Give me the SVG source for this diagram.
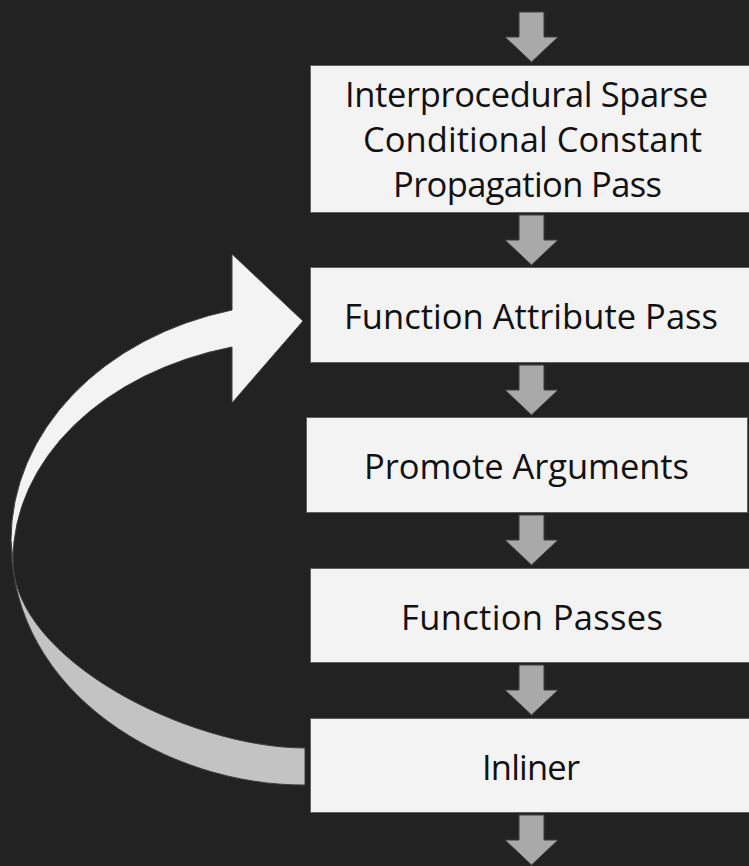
<svg xmlns="http://www.w3.org/2000/svg" width="749" height="866" viewBox="0 0 749 866">
  <style>
    .box { fill: #f3f3f3; stroke: #5f5f5f; stroke-width: 1; }
    .lbl { font-family: "Open Sans", "Liberation Sans", sans-serif; font-size: 34.5px; fill: #111111; text-anchor: middle; }
    .down { fill: #a9a9a9; stroke: #3c3c3c; stroke-width: 1; }
    .curve-front { fill: #f3f3f3; stroke: #3c3c3c; stroke-width: 1; }
    .curve-back { fill: #c3c3c3; stroke: #3c3c3c; stroke-width: 1; }
  </style>
  <defs>
    <path id="downArrow" d="M-12.5,0 H12.5 V25 H26.5 L0,50 L-26.5,25 H-12.5 Z"/>
  </defs>
  <rect x="0" y="0" width="749" height="866" fill="#222222"/>

  <g id="connectors">
    <use href="#downArrow" class="down" x="531.5" y="12"/>
    <use href="#downArrow" class="down" x="531.5" y="215"/>
    <use href="#downArrow" class="down" x="531.5" y="365"/>
    <use href="#downArrow" class="down" x="531.5" y="515"/>
    <use href="#downArrow" class="down" x="531.5" y="665"/>
    <use href="#downArrow" class="down" x="531.5" y="815"/>
    <g id="loop-arrow">
      <path class="curve-back" d="M11,540 C11,695 170,786 305,785 L305,748 C190,748 13,660 13,560 Z"/>
      <path class="curve-front" d="M232,254 L303,321 L232,403 L232,347 A292,220 0 0 0 13,560 L11,540 A294,238 0 0 1 232,310 Z"/>
    </g>
  </g>

  <g id="node-ipsccp">
    <rect class="box" x="310.5" y="65.5" width="445" height="147"/>
    <text class="lbl" x="526.5" y="107" textLength="363">Interprocedural Sparse</text>
    <text class="lbl" x="532.5" y="152" textLength="339">Conditional Constant</text>
    <text class="lbl" x="527.5" y="197" textLength="269">Propagation Pass</text>
  </g>
  <g id="node-functionattrs">
    <rect class="box" x="310.5" y="267.5" width="445" height="95"/>
    <text class="lbl" x="531" y="329" textLength="374">Function Attribute Pass</text>
  </g>
  <g id="node-argpromotion">
    <rect class="box" x="306.5" y="417.5" width="441" height="95"/>
    <text class="lbl" x="526.5" y="479" textLength="325">Promote Arguments</text>
  </g>
  <g id="node-function-passes">
    <rect class="box" x="310.5" y="568.5" width="445" height="94"/>
    <text class="lbl" x="532" y="630" textLength="262">Function Passes</text>
  </g>
  <g id="node-inliner">
    <rect class="box" x="310.5" y="718.5" width="445" height="94"/>
    <text class="lbl" x="531" y="780" textLength="98">Inliner</text>
  </g>
</svg>
